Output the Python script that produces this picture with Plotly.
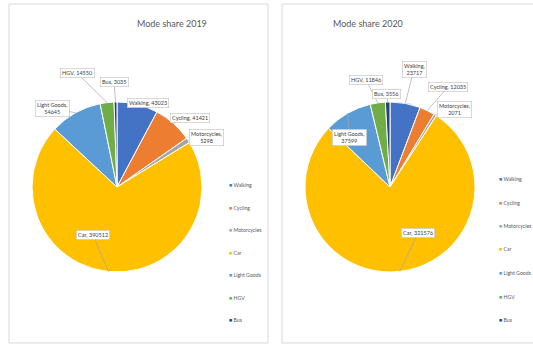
import math
import plotly.graph_objects as go

# Categories and counts for each year
modes = ["Walking", "Cycling", "Motorcycles", "Car", "Light Goods", "HGV", "Bus"]
counts_2019 = [43023, 41421, 5298, 390512, 54645, 14550, 3035]
counts_2020 = [23717, 12035, 2071, 321576, 37599, 11846, 3556]
titles = ["Mode share 2019", "Mode share 2020"]

# Office-style palette
colors = ["#4472C4", "#ED7D31", "#A5A5A5", "#FFC000", "#5B9BD5", "#70AD47", "#264478"]

W, H = 533, 347
R = 85  # pie radius in px

# Per-chart layout: pie centre (px), callout box centres (px), line breaks in callouts,
# legend position
charts = [
    dict(values=counts_2019, title=titles[0], center=(117, 187), title_x=135,
         boxes=[(148, 103), (190, 118), (206, 137), (93, 235), (52, 108), (77, 73), (114, 82)],
         breaks=[False, False, True, False, True, False, False],
         legend_x=227, legend_y0=185, legend_dy=22.5,
         panel=(9, 268)),
    dict(values=counts_2020, title=titles[1], center=(390, 187), title_x=405,
         boxes=[(414, 69), (448, 87), (454, 110), (418, 233), (349, 137), (366, 80), (386, 94)],
         breaks=[True, False, True, False, True, False, False],
         legend_x=497, legend_y0=179, legend_dy=23.5,
         panel=(282, 545)),
]

font_family = "Lato, Open Sans, sans-serif"

fig = go.Figure()
annotations = []
shapes = []

for ch in charts:
    cx, cy = ch["center"]
    vals = ch["values"]
    fig.add_trace(go.Pie(
        labels=modes, values=vals, sort=False, direction="clockwise", rotation=0,
        marker=dict(colors=colors, line=dict(color="white", width=1)),
        textinfo="none", hoverinfo="label+value+percent", showlegend=False,
        domain=dict(x=[(cx - R) / W, (cx + R) / W],
                    y=[1 - (cy + R) / H, 1 - (cy - R) / H]),
    ))

    # panel frame
    x0, x1 = ch["panel"]
    shapes.append(dict(type="rect", xref="paper", yref="paper",
                       x0=x0 / W, x1=x1 / W, y0=1 - 343 / H, y1=1 - 4 / H,
                       line=dict(color="#D9D9D9", width=1), fillcolor="rgba(0,0,0,0)"))

    # title
    annotations.append(dict(text=ch["title"], xref="paper", yref="paper",
                            x=ch["title_x"] / W, y=1 - 16 / H, showarrow=False,
                            font=dict(family=font_family, size=9, color="#595959")))

    # data callouts, anchored at each slice's mid-angle on the rim
    total = sum(vals)
    cum = 0
    for i, (lab, v) in enumerate(zip(modes, vals)):
        mid = (cum + v / 2) / total * 2 * math.pi
        cum += v
        ax_px = cx + R * math.sin(mid)
        ay_px = cy - R * math.cos(mid)
        bx, by = ch["boxes"][i]
        sep = "<br>" if ch["breaks"][i] else " "
        annotations.append(dict(
            text=f"{lab},{sep}{v}", xref="paper", yref="paper",
            x=ax_px / W, y=1 - ay_px / H, ax=bx - ax_px, ay=by - ay_px,
            showarrow=True, arrowhead=0, arrowwidth=0.7, arrowcolor="#A6A6A6",
            bgcolor="white", bordercolor="#BFBFBF", borderwidth=0.6, borderpad=1.5,
            font=dict(family=font_family, size=5.5, color="#404040"),
        ))

    # legend entries
    for i, lab in enumerate(modes):
        annotations.append(dict(
            text=f"<span style='color:{colors[i]}'>■</span> {lab}",
            xref="paper", yref="paper", xanchor="left", yanchor="middle",
            x=ch["legend_x"] / W, y=1 - (ch["legend_y0"] + i * ch["legend_dy"]) / H,
            showarrow=False,
            font=dict(family=font_family, size=5.2, color="#595959"),
        ))

fig.update_layout(
    width=W, height=H, margin=dict(l=0, r=0, t=0, b=0),
    paper_bgcolor="white", plot_bgcolor="white",
    annotations=annotations, shapes=shapes,
)

fig.write_html("out.html")
